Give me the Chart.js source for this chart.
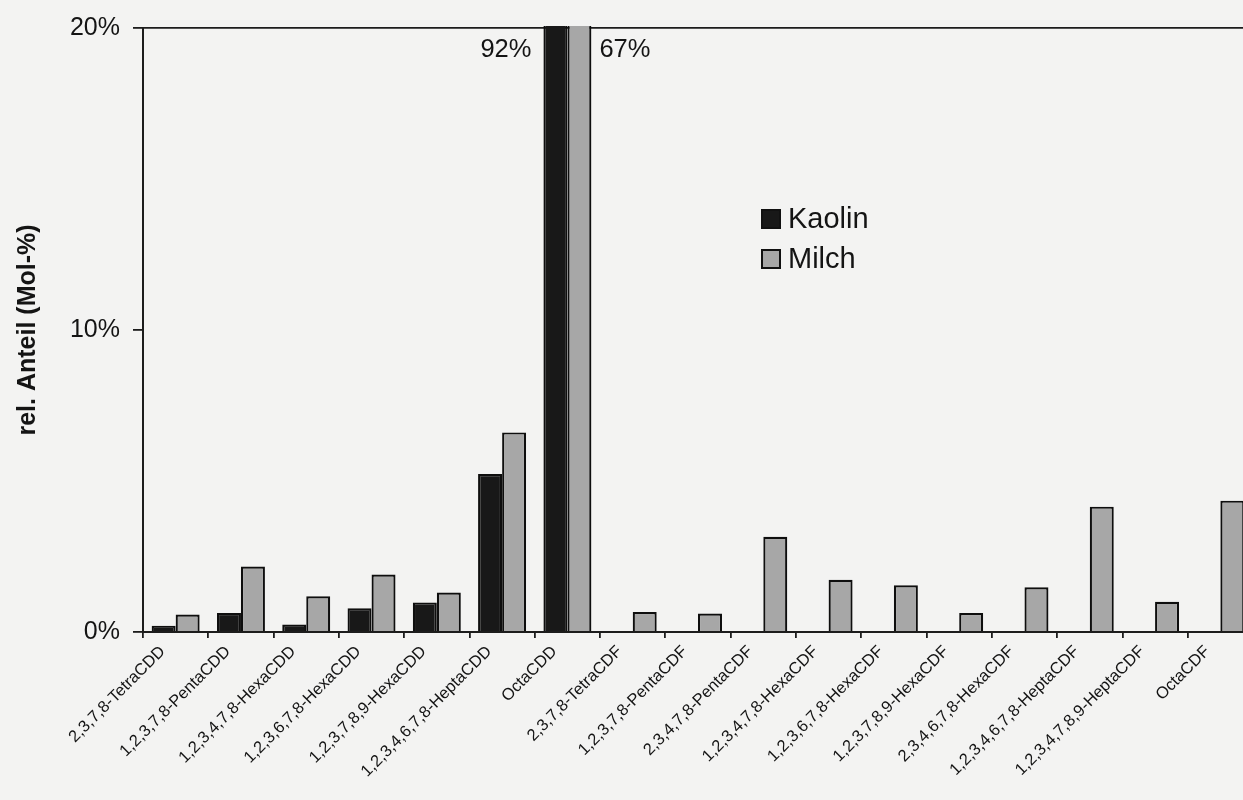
<!DOCTYPE html>
<html>
<head>
<meta charset="utf-8">
<script src="https://cdn.jsdelivr.net/npm/chart.js@4/dist/chart.umd.min.js"></script>
<style>
  html, body { margin: 0; padding: 0; background: #f3f3f2; overflow: hidden; }
  #wrap { position: absolute; left: 0; top: 0; width: 1262px; height: 800px; }
</style>
</head>
<body>
<div id="wrap"><canvas id="c"></canvas></div>
<script>
// Congener names (x axis)
const categories = [
  '2,3,7,8-TetraCDD', '1,2,3,7,8-PentaCDD', '1,2,3,4,7,8-HexaCDD',
  '1,2,3,6,7,8-HexaCDD', '1,2,3,7,8,9-HexaCDD', '1,2,3,4,6,7,8-HeptaCDD',
  'OctaCDD', '2,3,7,8-TetraCDF', '1,2,3,7,8-PentaCDF', '2,3,4,7,8-PentaCDF',
  '1,2,3,4,7,8-HexaCDF', '1,2,3,6,7,8-HexaCDF', '1,2,3,7,8,9-HexaCDF',
  '2,3,4,6,7,8-HexaCDF', '1,2,3,4,6,7,8-HeptaCDF', '1,2,3,4,7,8,9-HeptaCDF',
  'OctaCDF'
];
// Relative share in mol-%
const kaolin = [0.21, 0.63, 0.25, 0.79, 0.98, 5.23, 92, 0, 0, 0, 0, 0, 0, 0, 0, 0, 0];
const milch  = [0.58, 2.17, 1.18, 1.90, 1.31, 6.61, 67, 0.66, 0.61, 3.15, 1.73, 1.55, 0.63, 1.48, 4.15, 1.00, 4.35];
const seriesNames = ['Kaolin', 'Milch'];
const yTicks = [0, 10, 20];
const yTitle = 'rel. Anteil (Mol-%)';

const Y_MAX = yTicks[yTicks.length - 1];
const FONT = "'Liberation Sans', Arial, Helvetica, sans-serif";
const INK = '#141414';
const LINE = '#1c1c1c';

// Values beyond the axis top are written next to their clipped bars
const overflowLabels = {
  id: 'overflowLabels',
  afterDatasetsDraw(chart) {
    const ctx = chart.ctx;
    const top = chart.chartArea.top;
    ctx.save();
    ctx.font = '25.5px ' + FONT;
    ctx.fillStyle = INK;
    ctx.textBaseline = 'middle';
    chart.data.datasets.forEach((ds, di) => {
      const meta = chart.getDatasetMeta(di);
      ds.data.forEach((v, i) => {
        if (v == null || v <= Y_MAX) return;
        const bar = meta.data[i];
        const half = bar.width / 2;
        if (di === 0) {
          ctx.textAlign = 'right';
          ctx.fillText(v + '%', bar.x - half - 12, top + 22);
        } else {
          ctx.textAlign = 'left';
          ctx.fillText(v + '%', bar.x + half + 8, top + 22);
        }
      });
    });
    ctx.restore();
  }
};

// Legend drawn inside the plot
const insideLegend = {
  id: 'insideLegend',
  afterDraw(chart) {
    const ctx = chart.ctx;
    const x0 = 761, y0 = 209, box = 20, gap = 40;
    ctx.save();
    ctx.font = '29px ' + FONT;
    ctx.textBaseline = 'middle';
    ctx.textAlign = 'left';
    chart.data.datasets.forEach((ds, i) => {
      const y = y0 + i * gap;
      ctx.fillStyle = ds.backgroundColor;
      ctx.fillRect(x0, y, box, box);
      ctx.lineWidth = 2;
      ctx.strokeStyle = '#111';
      ctx.strokeRect(x0 + 1, y + 1, box - 2, box - 2);
      ctx.fillStyle = INK;
      ctx.fillText(ds.label, x0 + 27, y + box / 2 + 1);
    });
    ctx.restore();
  }
};

new Chart(document.getElementById('c'), {
  type: 'bar',
  data: {
    labels: categories,
    datasets: [
      { label: seriesNames[0], data: kaolin, backgroundColor: '#181818' },
      { label: seriesNames[1], data: milch, backgroundColor: '#a7a7a7' }
    ]
  },
  options: {
    responsive: true,
    maintainAspectRatio: false,
    animation: false,
    devicePixelRatio: 1,
    layout: { padding: { top: 25, right: 9, bottom: 0, left: 0 } },
    datasets: {
      bar: {
        categoryPercentage: 0.735,
        barPercentage: 1.0,
        borderColor: '#0e0e0e',
        borderWidth: 2.2,
        clip: { left: false, right: false, top: 2, bottom: false }
      }
    },
    plugins: {
      legend: { display: false },
      tooltip: { enabled: false }
    },
    scales: {
      x: {
        offset: true,
        grid: {
          display: true,
          offset: true,
          drawOnChartArea: false,
          drawTicks: true,
          tickLength: 6,
          color: LINE,
          lineWidth: 1.8
        },
        border: { display: true, color: LINE, width: 2 },
        ticks: {
          autoSkip: false,
          maxRotation: 45,
          minRotation: 45,
          padding: 4,
          labelOffset: -13,
          color: INK,
          font: { family: FONT, size: 16.5 }
        },
        afterFit(s) { s.height = 168; s.paddingLeft = 0; s.paddingRight = 0; }
      },
      y: {
        min: 0,
        max: Y_MAX,
        afterBuildTicks(s) { s.ticks = yTicks.map(v => ({ value: v })); },
        grid: {
          display: true,
          drawOnChartArea: true,
          drawTicks: true,
          tickLength: 10,
          lineWidth: 1.8,
          color: c => (c.tick && c.tick.value === Y_MAX) ? LINE : 'rgba(0,0,0,0)',
          tickColor: LINE
        },
        border: { display: true, color: LINE, width: 2 },
        ticks: {
          padding: 13,
          color: INK,
          font: { family: FONT, size: 25 },
          callback: v => v + '%'
        },
        title: {
          display: true,
          text: yTitle,
          color: INK,
          font: { family: FONT, size: 25, weight: 'bold' },
          padding: { top: 13, bottom: 0 }
        },
        afterFit(s) { s.width = 143; }
      }
    }
  },
  plugins: [overflowLabels, insideLegend]
});
</script>
</body>
</html>
